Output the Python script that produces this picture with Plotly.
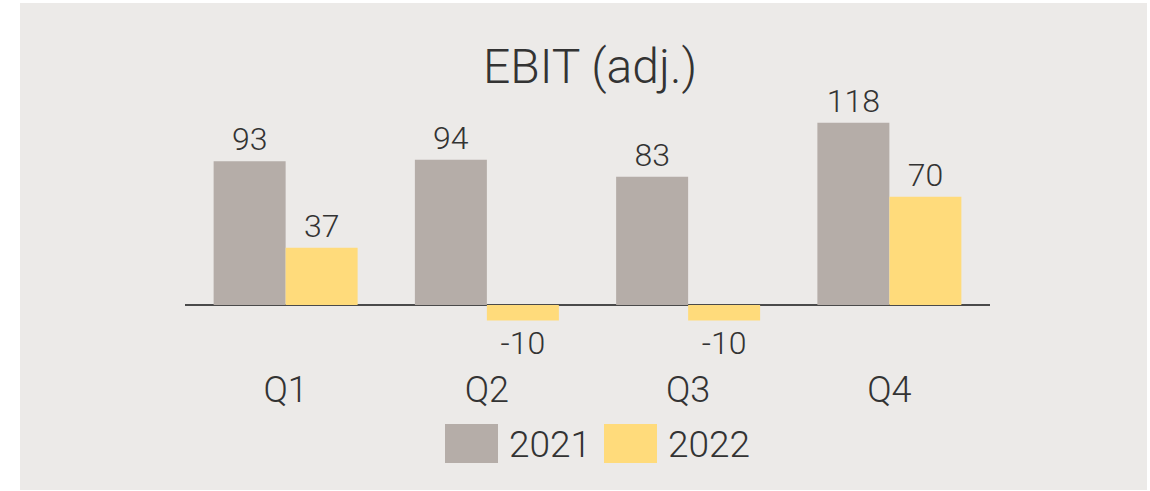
import plotly.graph_objs as go

# data
quarters = ["Q1", "Q2", "Q3", "Q4"]
ebit_2021 = [93, 94, 83, 118]
ebit_2022 = [37, -10, -10, 70]
series_names = ["2021", "2022"]

colors = ["#b5ada8", "#ffdb7b"]
bg = "#eceae8"
text_color = "#333333"
font_family = "Roboto, 'Noto Sans', sans-serif"
weight = 300

W, H = 1150, 491
margin = dict(l=185, r=160, t=110, b=145)
plot_w = W - margin["l"] - margin["r"]
plot_h = H - margin["t"] - margin["b"]


def px_x(px):
    return (px - margin["l"]) / plot_w


def px_y(py):
    return (H - margin["b"] - py) / plot_h


def font(size):
    return dict(size=size, color=text_color, family=font_family, weight=weight)


fig = go.Figure()
for name, vals, col in zip(series_names, [ebit_2021, ebit_2022], colors):
    fig.add_trace(go.Bar(
        x=quarters, y=vals, name=name,
        marker=dict(color=col, line=dict(width=0)),
        text=[str(v) for v in vals], textposition="outside",
        textfont=font(32),
        constraintext="none", cliponaxis=False, showlegend=False,
    ))

# grey card behind the chart
shapes = [dict(type="rect", xref="paper", yref="paper", layer="below",
               x0=px_x(20), x1=px_x(1147), y0=px_y(490), y1=px_y(3),
               fillcolor=bg, line=dict(width=0))]

# custom legend with large swatches
annotations = []
legend_x = [445, 604]
for name, col, lx in zip(series_names, colors, legend_x):
    shapes.append(dict(type="rect", xref="paper", yref="paper",
                       x0=px_x(lx), x1=px_x(lx + 53), y0=px_y(463), y1=px_y(424),
                       fillcolor=col, line=dict(width=0)))
    annotations.append(dict(xref="paper", yref="paper", x=px_x(lx + 62), y=px_y(444),
                            xanchor="left", yanchor="middle", showarrow=False,
                            text=name, font=font(37)))

fig.update_layout(
    width=W, height=H, margin=margin,
    paper_bgcolor="white", plot_bgcolor="rgba(0,0,0,0)",
    barmode="group", bargap=0.2845, bargroupgap=0,
    title=dict(text="EBIT (adj.)", x=590 / W, y=1 - 66 / H,
               xanchor="center", yanchor="middle", font=font(48)),
    font=dict(family=font_family, color=text_color),
    xaxis=dict(range=[-0.5, 3.5], showgrid=False, showline=False, zeroline=False,
               ticks="", ticklabelstandoff=19, tickfont=font(36)),
    yaxis=dict(range=[-26.5, 126.2], showgrid=False, showline=False,
               showticklabels=False, ticks="", zeroline=True,
               zerolinecolor="#4a4a4a", zerolinewidth=2),
    shapes=shapes, annotations=annotations,
)

# page has a default 8px body margin; remove it so the figure sits at 0,0
fig.write_html("out.html", config={"displayModeBar": False},
               post_script="document.body.style.margin='0';")
